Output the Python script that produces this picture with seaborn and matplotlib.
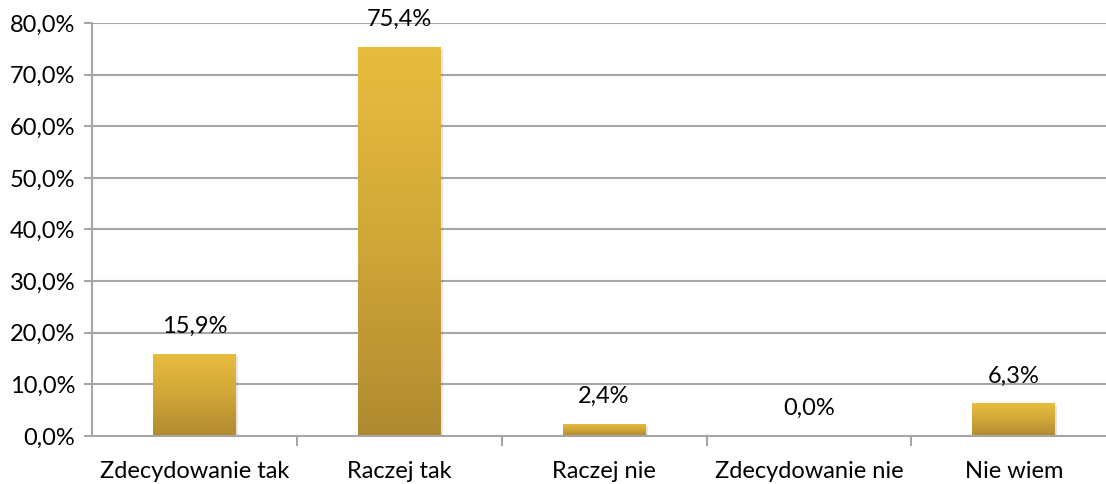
import numpy as np
import pandas as pd
import matplotlib
matplotlib.use("Agg")
import matplotlib.pyplot as plt
import seaborn as sns
from matplotlib.colors import LinearSegmentedColormap
from matplotlib.ticker import FuncFormatter, FixedLocator

categories = ["Zdecydowanie tak", "Raczej tak", "Raczej nie", "Zdecydowanie nie", "Nie wiem"]
values = [15.9, 75.4, 2.4, 0.0, 6.3]
value_labels = ["15,9%", "75,4%", "2,4%", "0,0%", "6,3%"]

sns.set_theme(style="white")
plt.rcParams['font.family'] = ['Lato', 'DejaVu Sans']

fig = plt.figure(figsize=(11.06, 4.84), dpi=100)
ax = fig.add_axes([92/1106, 48/484, (1106-92)/1106, (436-23)/484])

df = pd.DataFrame({"cat": categories, "val": values})
sns.barplot(data=df, x="cat", y="val", ax=ax, color="#D4A83A", width=0.405,
            saturation=1, edgecolor="none", linewidth=0)

ax.set_ylim(0, 80)
ax.set_xlim(-0.5, 4.45)
ax.set_xlabel("")
ax.set_ylabel("")

FS = 17
grid_c = "#A6A6A6"
ax.set_yticks(np.arange(0, 81, 10))
ax.yaxis.set_major_formatter(FuncFormatter(lambda v, p: f"{v:.1f}%".replace(".", ",")))
ax.grid(axis="y", color=grid_c, linewidth=1.5)
ax.set_axisbelow(True)
for s in ["top", "right"]:
    ax.spines[s].set_visible(False)
ax.spines["left"].set_color(grid_c)
ax.spines["left"].set_linewidth(1.5)
ax.spines["bottom"].set_color(grid_c)
ax.spines["bottom"].set_linewidth(1.5)
ax.tick_params(axis="y", left=True, length=6, width=1.5, color=grid_c, labelsize=FS, pad=6, labelcolor="#000000")
ax.tick_params(axis="x", bottom=False, labelsize=FS, pad=12, labelcolor="#000000")
ax.xaxis.set_minor_locator(FixedLocator([0.5, 1.5, 2.5, 3.5]))
ax.tick_params(axis="x", which="minor", bottom=True, length=7, width=1.5, color=grid_c)

cmap = LinearSegmentedColormap.from_list("gold", ["#B08A30", "#D1A738", "#E7BD3F"])
grad = np.linspace(0, 1, 256).reshape(-1, 1)
for patch in ax.patches:
    x0, y0 = patch.get_x(), patch.get_y()
    w, h = patch.get_width(), patch.get_height()
    if h <= 0:
        continue
    sh = plt.Rectangle((x0 + 0.01, y0 - 0.4), w, h, facecolor="#000000", alpha=0.10,
                       edgecolor="none", zorder=patch.get_zorder() - 0.1)
    ax.add_patch(sh)
    im = ax.imshow(grad, extent=[x0, x0 + w, y0, y0 + h], origin="lower", aspect="auto",
                   cmap=cmap, zorder=patch.get_zorder() + 0.1)
    im.set_clip_path(patch)

ax.set_xlim(-0.5, 4.45)
ax.set_ylim(0, 80)

for i, (v, lab) in enumerate(zip(values, value_labels)):
    ax.annotate(lab, (i, v), xytext=(0, 12), textcoords="offset points",
                ha="center", va="bottom", fontsize=FS, color="#000000")

fig.savefig("out.png", dpi=100)
